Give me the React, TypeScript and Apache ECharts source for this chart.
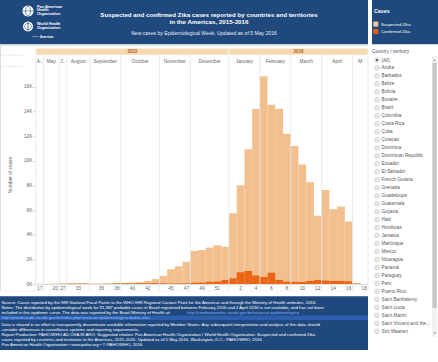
import React, { useEffect, useRef } from 'react';
import * as echarts from 'echarts';

const weeks2015 = [17, 19, 20, 27, 32, 33, 34, 35, 36, 37, 38, 39, 40, 41, 42, 43, 44, 45, 46, 47, 48, 49, 50, 51, 52];
const weeks2016 = [1, 2, 3, 4, 5, 6, 7, 8, 9, 10, 11, 12, 13, 14, 15, 16, 17, 18];

const suspected2015 = [10, 15, 20, 40, 60, 70, 60, 30, 40, 50, 70, 90, 110, 140, 250, 400, 660, 1200, 1450, 1800, 2680, 2760, 2950, 3150, 3030];
const suspected2016 = [5750, 8020, 10950, 14200, 16860, 14550, 14230, 12200, 11200, 9700, 8270, 5550, 7640, 6070, 6290, 5070, 80, 10];

const confirmed2015 = [5, 5, 10, 20, 20, 30, 20, 10, 10, 20, 40, 50, 50, 60, 60, 70, 50, 40, 50, 60, 100, 110, 180, 200, 330];
const confirmed2016 = [460, 950, 1060, 680, 570, 920, 330, 190, 170, 170, 250, 330, 280, 250, 250, 220, 30, 5];

const months = ['A..', 'May', 'J..', 'August', 'September', 'October', 'November', 'December', 'January', 'February', 'March', 'April', 'M'];
const monthWeekCounts = [1, 2, 1, 3, 4, 5, 4, 5, 4, 4, 4, 4, 2];
const years = ['2015', '2016'];

const shownWeekLabels = ['2015-17', '2015-20', '2015-27', '2015-33', '2015-36', '2015-38', '2015-40', '2015-42', '2015-45', '2015-47', '2015-49', '2015-51', '2016-2', '2016-4', '2016-6', '2016-8', '2016-10', '2016-12', '2016-14', '2016-16', '2016-18'];

const countries = ['(All)', 'Aruba', 'Barbados', 'Belize', 'Bolivia', 'Bonaire', 'Brazil', 'Colombia', 'Costa Rica', 'Cuba', 'Curacao', 'Dominica', 'Dominican Republic', 'Ecuador', 'El Salvador', 'French Guiana', 'Grenada', 'Guadeloupe', 'Guatemala', 'Guyana', 'Haiti', 'Honduras', 'Jamaica', 'Martinique', 'Mexico', 'Nicaragua', 'Panamá', 'Paraguay', 'Peru', 'Puerto Rico', 'Saint Barthelemy', 'Saint Lucia', 'Saint Martin', 'Saint Vincent and the...', 'Sint Maarten'];

const footerLines = [
  'Source: Cases reported by the IHR National Focal Points to the WHO IHR Regional Contact Point for the Americas and through the Ministry of Health websites, 2016.',
  'Notes: The distribution by epidemiological week for 91,387 probable cases in Brazil registered between February 2016 and 2 April 2016 is not available, and has not been',
  'included in this epidemic curve. The data was reported by the Brazil Ministry of Health at:',
  '',
  'Data is shared in an effort to transparently disseminate available information reported by Member States. Any subsequent interpretation and analysis of this data should',
  'consider differences in surveillance systems and reporting requirements.',
  'Report Production: PAHO/WHO AD CHA IR ARO. Suggested citation: Pan American Health Organization / World Health Organization. Suspected and confirmed Zika',
  'cases reported by countries and territories in the Americas, 2015-2016. Updated as of 5 May 2016. Washington, D.C.: PAHO/WHO; 2016',
  'Pan American Health Organization • www.paho.org • © PAHO/WHO, 2016',
];
const footerY = [302.3, 307.6, 312.7, 317.8, 324, 329.1, 334.3, 339.4, 344.6];
const linkText1 = 'http://combateaedes.saude.gov.br/situacao-epidemiologica';
const linkText2 = 'http://portalsaude.saude.gov.br/index.php/situacao-epidemiologica-dados-zika';

const FONT = '"Liberation Sans", Arial, sans-serif';
const BLUE = '#1f497d';
const SUSP = '#f1c08e';
const CONF = '#ea6514';

export default function App() {
  const ref = useRef<HTMLDivElement>(null);

  useEffect(() => {
    document.body.style.margin = '0';
    if (!ref.current) return;
    const chart = echarts.init(ref.current, undefined, { renderer: 'svg' });

    const categories = weeks2015.map((w) => `2015-${w}`).concat(weeks2016.map((w) => `2016-${w}`));
    const suspected = suspected2015.concat(suspected2016);
    const confirmed = confirmed2015.concat(confirmed2016);

    const monthRanges: number[][] = [];
    let acc = 0;
    monthWeekCounts.forEach((c) => {
      monthRanges.push([acc, acc + c - 1]);
      acc += c;
    });
    const yearRanges = [
      [0, weeks2015.length - 1],
      [weeks2015.length, weeks2015.length + weeks2016.length - 1],
    ];

    const txt = (text: string, x: number, y: number, size: number, fill: string, extra: any = {}) => ({
      type: 'text',
      silent: true,
      style: {
        text, x, y, fill, fontSize: size, fontFamily: FONT,
        align: extra.align || 'left', textAlign: extra.align || 'left',
        verticalAlign: 'middle', textVerticalAlign: 'middle',
        fontWeight: extra.bold ? 'bold' : 'normal',
      },
      z: 10,
    });

    const graphics: any[] = [];
    // header
    graphics.push({ type: 'rect', shape: { x: 0, y: 0, width: 368, height: 44.3 }, style: { fill: BLUE }, z: 1 });
    graphics.push({ type: 'rect', shape: { x: 372, y: 0, width: 66, height: 44.3 }, style: { fill: BLUE }, z: 1 });
    // logos
    graphics.push({ type: 'circle', shape: { cx: 28, cy: 11, r: 5.5 }, style: { fill: '#ffffff' }, z: 5 });
    graphics.push({ type: 'ellipse', shape: { cx: 28, cy: 11, rx: 2.4, ry: 4.8 }, style: { fill: 'none', stroke: BLUE, lineWidth: 0.6 }, z: 6 });
    graphics.push({ type: 'line', shape: { x1: 23, y1: 11, x2: 33, y2: 11 }, style: { stroke: BLUE, lineWidth: 0.5 }, z: 6 });
    graphics.push({ type: 'circle', shape: { cx: 28, cy: 26.5, r: 5 }, style: { fill: '#ffffff' }, z: 5 });
    graphics.push({ type: 'circle', shape: { cx: 28, cy: 26.5, r: 3.3 }, style: { fill: 'none', stroke: BLUE, lineWidth: 0.6 }, z: 6 });
    graphics.push({ type: 'line', shape: { x1: 28, y1: 22.3, x2: 28, y2: 30.8 }, style: { stroke: BLUE, lineWidth: 0.8 }, z: 6 });
    graphics.push(txt('Pan American', 37, 6.6, 3.8, '#ffffff', { bold: true }));
    graphics.push(txt('Health', 37, 10.4, 3.8, '#ffffff', { bold: true }));
    graphics.push(txt('Organization', 37, 14.3, 3.8, '#ffffff', { bold: true }));
    graphics.push(txt('World Health', 37, 24.3, 3.8, '#ffffff', { bold: true }));
    graphics.push(txt('Organization', 37, 28.3, 3.8, '#ffffff', { bold: true }));
    graphics.push({ type: 'line', shape: { x1: 32, y1: 36.6, x2: 39, y2: 36.6 }, style: { stroke: '#ffffff', lineWidth: 0.4 }, z: 6 });
    graphics.push(txt('Americas', 40, 36.6, 3, '#ffffff', { bold: true }));
    // titles
    graphics.push(txt('Suspected and confirmed Zika cases reported by countries and territories', 209, 14, 6.2, '#ffffff', { bold: true, align: 'center' }));
    graphics.push(txt('in the Americas, 2015-2016', 209, 21.8, 6.2, '#ffffff', { bold: true, align: 'center' }));
    graphics.push(txt('New cases by Epidemiological Week. Updated as of 5 May 2016', 204, 33.3, 5.1, '#e8edf4', { align: 'center' }));
    // legend
    graphics.push(txt('Cases', 374, 11, 5.3, '#ffffff', { bold: true }));
    graphics.push({ type: 'rect', shape: { x: 373.3, y: 21.6, width: 5, height: 5 }, style: { fill: '#f6c795' }, z: 5 });
    graphics.push(txt('Suspected Zika', 381, 24.1, 4.3, '#ffffff'));
    graphics.push({ type: 'rect', shape: { x: 373.3, y: 29, width: 5, height: 5 }, style: { fill: '#e85f17' }, z: 5 });
    graphics.push(txt('Confirmed Zika', 381, 31.5, 4.3, '#ffffff'));
    // chart frame pieces
    graphics.push({ type: 'rect', shape: { x: 0, y: 45, width: 368, height: 1.6 }, style: { fill: '#ebebeb' }, z: 1 });
    graphics.push({ type: 'line', shape: { x1: 0.5, y1: 46, x2: 0.5, y2: 291 }, style: { stroke: '#dddddd', lineWidth: 1 }, z: 1 });
    graphics.push({ type: 'line', shape: { x1: 0, y1: 55.2, x2: 22.7, y2: 55.2 }, style: { stroke: '#dddddd', lineWidth: 0.6 }, z: 1 });
    graphics.push({ type: 'line', shape: { x1: 0, y1: 66.6, x2: 22.7, y2: 66.6 }, style: { stroke: '#dddddd', lineWidth: 0.6 }, z: 1 });
    graphics.push({ type: 'line', shape: { x1: 0, y1: 291, x2: 368, y2: 291 }, style: { stroke: '#eeeeee', lineWidth: 0.6 }, z: 1 });
    // footer
    graphics.push({ type: 'rect', shape: { x: 0, y: 296.3, width: 368, height: 53.7 }, style: { fill: BLUE }, z: 1 });
    graphics.push({ type: 'rect', shape: { x: 0, y: 315.6, width: 368, height: 4.5 }, style: { fill: '#2d5fae' }, z: 2 });
    footerLines.forEach((l, i) => {
      if (l) graphics.push(txt(l, 1.5, footerY[i], 4.3, '#ffffff'));
    });
    graphics.push(txt(linkText1, 187, footerY[2], 4.3, '#7fb0ff'));
    graphics.push(txt(linkText2, 1.5, footerY[3], 4.3, '#9cc2ff'));
    // right panel
    graphics.push(txt('Country / territory', 372, 51, 4.8, '#555555'));
    countries.forEach((c, i) => {
      const y = 60 + i * 7.98;
      graphics.push({ type: 'circle', shape: { cx: 377, cy: y, r: 2.4 }, style: { fill: '#e9e9e9', stroke: '#bdbdbd', lineWidth: 0.5 }, z: 5 });
      if (i === 0) graphics.push({ type: 'circle', shape: { cx: 377, cy: y, r: 1.1 }, style: { fill: '#555555' }, z: 6 });
      graphics.push(txt(c, 381.5, y, 4.7, '#555555'));
    });
    graphics.push({ type: 'rect', shape: { x: 432, y: 56, width: 5.2, height: 281 }, style: { fill: '#f1f1f1' }, z: 4 });
    graphics.push({ type: 'rect', shape: { x: 432.4, y: 63, width: 4.4, height: 245 }, style: { fill: '#c6c6c6' }, z: 5 });
    graphics.push(txt('▲', 434.6, 59.3, 3, '#777777', { align: 'center' }));
    graphics.push(txt('▼', 434.6, 332.5, 3, '#777777', { align: 'center' }));

    const option: any = {
      animation: false,
      grid: { left: 22.7, right: 70, top: 66, bottom: 78, containLabel: false },
      xAxis: {
        type: 'category',
        data: categories,
        boundaryGap: true,
        axisLine: { show: true, lineStyle: { color: '#d6d6d6', width: 0.8 } },
        axisTick: { show: false },
        splitLine: { show: false },
        axisLabel: {
          interval: (_i: number, v: string) => shownWeekLabels.includes(v),
          formatter: (v: string) => v.split('-')[1],
          fontSize: 4.8,
          color: '#666666',
          fontFamily: FONT,
          margin: 2.2,
        },
      },
      yAxis: {
        type: 'value',
        min: 0,
        max: 17700,
        interval: 2000,
        name: 'Number of cases',
        nameLocation: 'middle',
        nameGap: 15,
        nameTextStyle: { fontSize: 4.8, color: '#666666', fontFamily: FONT },
        axisLine: { show: false },
        axisTick: { show: true, length: 2.4, lineStyle: { color: '#aaaaaa', width: 0.5 } },
        splitLine: { show: false },
        axisLabel: {
          formatter: (v: number) => `${v / 1000}K`,
          fontSize: 4.8,
          color: '#666666',
          fontFamily: FONT,
          margin: 3.4,
          showMaxLabel: false,
        },
      },
      graphic: { elements: graphics },
      series: [
        {
          type: 'bar',
          name: 'Suspected Zika',
          data: suspected,
          barCategoryGap: '0%',
          barGap: '-100%',
          itemStyle: { color: SUSP },
          z: 2,
        },
        {
          type: 'bar',
          name: 'Confirmed Zika',
          data: confirmed,
          barCategoryGap: '0%',
          barGap: '-100%',
          itemStyle: { color: CONF },
          z: 3,
        },
        {
          type: 'custom',
          name: 'years',
          clip: false,
          silent: true,
          z: 6,
          data: yearRanges,
          encode: { x: [0, 1] },
          renderItem: (params: any, api: any) => {
            const s = api.value(0);
            const e = api.value(1);
            const bw = api.size([1, 0])[0];
            const x0 = api.coord([s, 0])[0] - bw / 2;
            const x1 = api.coord([e, 0])[0] + bw / 2;
            return {
              type: 'group',
              children: [
                { type: 'rect', shape: { x: x0, y: 48.2, width: x1 - x0, height: 6.9 }, style: { fill: '#f5d9b1', stroke: '#ffffff', lineWidth: 0.6 } },
                {
                  type: 'text',
                  style: {
                    text: years[params.dataIndex], x: (x0 + x1) / 2, y: 51.7,
                    align: 'center', textAlign: 'center', verticalAlign: 'middle', textVerticalAlign: 'middle',
                    fontSize: 4.5, fontWeight: 'bold', fill: '#b35f1c', fontFamily: FONT,
                  },
                },
              ],
            };
          },
        },
        {
          type: 'custom',
          name: 'months',
          clip: false,
          silent: true,
          z: 6,
          data: monthRanges,
          encode: { x: [0, 1] },
          renderItem: (params: any, api: any) => {
            const i = params.dataIndex;
            const s = api.value(0);
            const e = api.value(1);
            const bw = api.size([1, 0])[0];
            const x0 = api.coord([s, 0])[0] - bw / 2;
            const x1 = api.coord([e, 0])[0] + bw / 2;
            const children: any[] = [
              { type: 'line', shape: { x1: x0, y1: 55.2, x2: x0, y2: 291 }, style: { stroke: '#e4e4e4', lineWidth: 0.8 } },
              {
                type: 'text',
                style: {
                  text: months[i], x: (x0 + x1) / 2, y: 61.2,
                  align: 'center', textAlign: 'center', verticalAlign: 'middle', textVerticalAlign: 'middle',
                  fontSize: 4.8, fill: '#666666', fontFamily: FONT,
                },
              },
            ];
            if (i === months.length - 1) {
              children.push({ type: 'line', shape: { x1: x1, y1: 55.2, x2: x1, y2: 291 }, style: { stroke: '#e4e4e4', lineWidth: 0.8 } });
            }
            return { type: 'group', children };
          },
        },
      ],
    };

    chart.setOption(option);
    return () => chart.dispose();
  }, []);

  return <div ref={ref} style={{ width: 438, height: 362 }} />;
}
